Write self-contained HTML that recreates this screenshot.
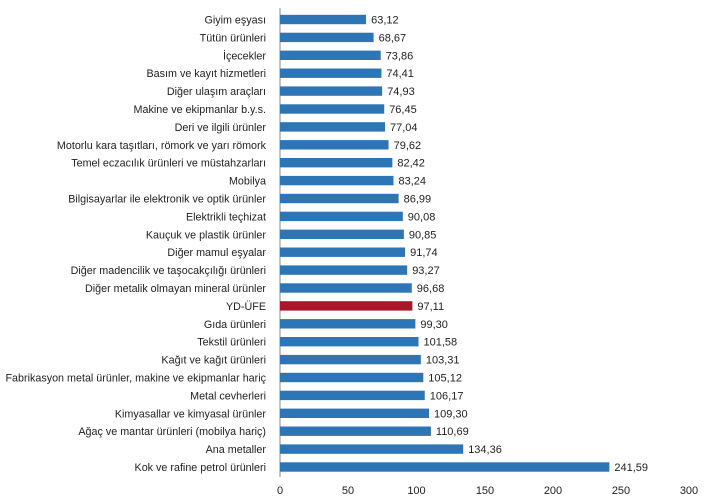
<!DOCTYPE html>
<html><head><meta charset="utf-8"><style>
body{margin:0;background:#fff;}
svg text{font-family:"Liberation Sans",Arial,sans-serif;font-size:11px;fill:#222;}
.l{text-anchor:end;font-size:10.75px;}
</style></head><body>
<svg width="723" height="499" xmlns="http://www.w3.org/2000/svg">
<line x1="280" y1="8" x2="280" y2="477" stroke="#888" stroke-width="1"/>
<g fill="#2E75B6">
<rect x="280" y="14.8" width="86.05" height="9.4"/>
<rect x="280" y="32.7" width="93.62" height="9.4"/>
<rect x="280" y="50.6" width="100.70" height="9.4"/>
<rect x="280" y="68.5" width="101.44" height="9.4"/>
<rect x="280" y="86.4" width="102.15" height="9.4"/>
<rect x="280" y="104.3" width="104.23" height="9.4"/>
<rect x="280" y="122.2" width="105.03" height="9.4"/>
<rect x="280" y="140.1" width="108.55" height="9.4"/>
<rect x="280" y="158.0" width="112.37" height="9.4"/>
<rect x="280" y="175.9" width="113.48" height="9.4"/>
<rect x="280" y="193.8" width="118.60" height="9.4"/>
<rect x="280" y="211.7" width="122.81" height="9.4"/>
<rect x="280" y="229.6" width="123.86" height="9.4"/>
<rect x="280" y="247.5" width="125.07" height="9.4"/>
<rect x="280" y="265.4" width="127.16" height="9.4"/>
<rect x="280" y="283.3" width="131.81" height="9.4"/>
<rect x="280" y="301.2" width="132.39" height="9.4" fill="#A8172A"/>
<rect x="280" y="319.1" width="135.38" height="9.4"/>
<rect x="280" y="337.0" width="138.49" height="9.4"/>
<rect x="280" y="354.9" width="140.85" height="9.4"/>
<rect x="280" y="372.8" width="143.31" height="9.4"/>
<rect x="280" y="390.7" width="144.75" height="9.4"/>
<rect x="280" y="408.6" width="149.01" height="9.4"/>
<rect x="280" y="426.5" width="150.91" height="9.4"/>
<rect x="280" y="444.4" width="183.18" height="9.4"/>
<rect x="280" y="462.3" width="329.37" height="9.4"/>
</g>
<g>
<text class="l" x="266" y="23.5">Giyim eşyası</text>
<text class="l" x="266" y="41.4">Tütün ürünleri</text>
<text class="l" x="266" y="59.3">İçecekler</text>
<text class="l" x="266" y="77.2">Basım ve kayıt hizmetleri</text>
<text class="l" x="266" y="95.1">Diğer ulaşım araçları</text>
<text class="l" x="266" y="113.0">Makine ve ekipmanlar b.y.s.</text>
<text class="l" x="266" y="130.9">Deri ve ilgili ürünler</text>
<text class="l" x="266" y="148.8">Motorlu kara taşıtları, römork ve yarı römork</text>
<text class="l" x="266" y="166.7">Temel eczacılık ürünleri ve müstahzarları</text>
<text class="l" x="266" y="184.6">Mobilya</text>
<text class="l" x="266" y="202.5">Bilgisayarlar ile elektronik ve optik ürünler</text>
<text class="l" x="266" y="220.4">Elektrikli teçhizat</text>
<text class="l" x="266" y="238.3">Kauçuk ve plastik ürünler</text>
<text class="l" x="266" y="256.2">Diğer mamul eşyalar</text>
<text class="l" x="266" y="274.1">Diğer madencilik ve taşocakçılığı ürünleri</text>
<text class="l" x="266" y="292.0">Diğer metalik olmayan mineral ürünler</text>
<text class="l" x="266" y="309.9">YD-ÜFE</text>
<text class="l" x="266" y="327.8">Gıda ürünleri</text>
<text class="l" x="266" y="345.7">Tekstil ürünleri</text>
<text class="l" x="266" y="363.6">Kağıt ve kağıt ürünleri</text>
<text class="l" x="266" y="381.5">Fabrikasyon metal ürünler, makine ve ekipmanlar hariç</text>
<text class="l" x="266" y="399.4">Metal cevherleri</text>
<text class="l" x="266" y="417.3">Kimyasallar ve kimyasal ürünler</text>
<text class="l" x="266" y="435.2">Ağaç ve mantar ürünleri (mobilya hariç)</text>
<text class="l" x="266" y="453.1">Ana metaller</text>
<text class="l" x="266" y="471.0">Kok ve rafine petrol ürünleri</text>
</g>
<g>
<text x="371.1" y="23.5">63,12</text>
<text x="378.6" y="41.4">68,67</text>
<text x="385.7" y="59.3">73,86</text>
<text x="386.4" y="77.2">74,41</text>
<text x="387.2" y="95.1">74,93</text>
<text x="389.2" y="113.0">76,45</text>
<text x="390.0" y="130.9">77,04</text>
<text x="393.6" y="148.8">79,62</text>
<text x="397.4" y="166.7">82,42</text>
<text x="398.5" y="184.6">83,24</text>
<text x="403.6" y="202.5">86,99</text>
<text x="407.8" y="220.4">90,08</text>
<text x="408.9" y="238.3">90,85</text>
<text x="410.1" y="256.2">91,74</text>
<text x="412.2" y="274.1">93,27</text>
<text x="416.8" y="292.0">96,68</text>
<text x="417.4" y="309.9">97,11</text>
<text x="420.4" y="327.8">99,30</text>
<text x="423.5" y="345.7">101,58</text>
<text x="425.9" y="363.6">103,31</text>
<text x="428.3" y="381.5">105,12</text>
<text x="429.8" y="399.4">106,17</text>
<text x="434.0" y="417.3">109,30</text>
<text x="435.9" y="435.2">110,69</text>
<text x="468.2" y="453.1">134,36</text>
<text x="614.4" y="471.0">241,59</text>
</g>
<g text-anchor="middle">
<text x="280" y="494">0</text><text x="348" y="494">50</text><text x="416.5" y="494">100</text>
<text x="485" y="494">150</text><text x="553" y="494">200</text><text x="621" y="494">250</text><text x="689" y="494">300</text>
</g>
</svg>
</body></html>
